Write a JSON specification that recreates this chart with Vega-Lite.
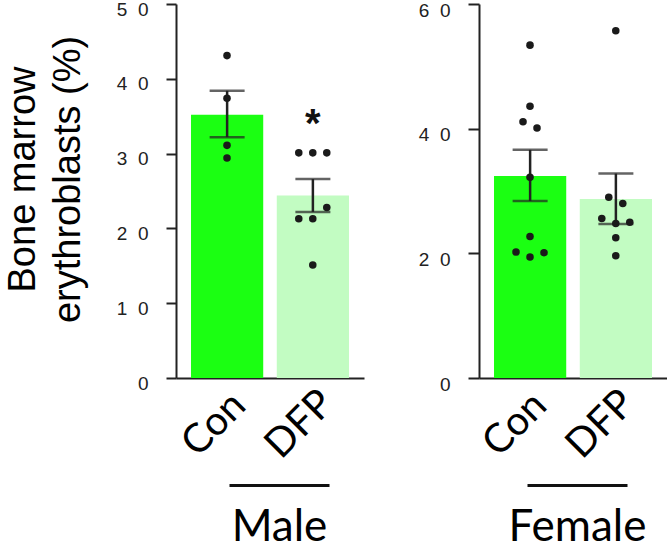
{
  "$schema": "https://vega.github.io/schema/vega-lite/v6.json",
  "background": "white",
  "padding": {"left": 3, "top": 0, "right": 0, "bottom": 0},
  "config": {"view": {"stroke": null}},
  "datasets": {
    "bars": [
      {"sex": "Male", "group": "Con", "mean": 35.2, "lo": 32.2, "hi": 38.4},
      {"sex": "Male", "group": "DFP", "mean": 24.4, "lo": 22.2, "hi": 26.6},
      {"sex": "Female", "group": "Con", "mean": 32.4, "lo": 28.4, "hi": 36.6},
      {"sex": "Female", "group": "DFP", "mean": 28.7, "lo": 24.7, "hi": 32.8}
    ],
    "points": [
      {"sex": "Male", "group": "Con", "col": 0, "value": 43.1},
      {"sex": "Male", "group": "Con", "col": 0, "value": 37.4},
      {"sex": "Male", "group": "Con", "col": 0, "value": 31.1},
      {"sex": "Male", "group": "Con", "col": 0, "value": 29.4},
      {"sex": "Male", "group": "DFP", "col": -2, "value": 30.1},
      {"sex": "Male", "group": "DFP", "col": 0, "value": 30.1},
      {"sex": "Male", "group": "DFP", "col": 2, "value": 30.1},
      {"sex": "Male", "group": "DFP", "col": 2, "value": 22.8},
      {"sex": "Male", "group": "DFP", "col": -2, "value": 21.3},
      {"sex": "Male", "group": "DFP", "col": 0, "value": 21.3},
      {"sex": "Male", "group": "DFP", "col": 0, "value": 15.1},
      {"sex": "Female", "group": "Con", "col": 0, "value": 53.4},
      {"sex": "Female", "group": "Con", "col": 0, "value": 43.6},
      {"sex": "Female", "group": "Con", "col": -1, "value": 41.1},
      {"sex": "Female", "group": "Con", "col": 1, "value": 40.1},
      {"sex": "Female", "group": "Con", "col": 0, "value": 32.2},
      {"sex": "Female", "group": "Con", "col": 0, "value": 22.7},
      {"sex": "Female", "group": "Con", "col": -2, "value": 20.2},
      {"sex": "Female", "group": "Con", "col": 0, "value": 19.4},
      {"sex": "Female", "group": "Con", "col": 2, "value": 20.1},
      {"sex": "Female", "group": "DFP", "col": 0, "value": 55.7},
      {"sex": "Female", "group": "DFP", "col": -1, "value": 29.0},
      {"sex": "Female", "group": "DFP", "col": 1, "value": 28.0},
      {"sex": "Female", "group": "DFP", "col": -2, "value": 25.6},
      {"sex": "Female", "group": "DFP", "col": 0, "value": 24.8},
      {"sex": "Female", "group": "DFP", "col": 2, "value": 25.0},
      {"sex": "Female", "group": "DFP", "col": 0, "value": 22.5},
      {"sex": "Female", "group": "DFP", "col": 0, "value": 19.6}
    ],
    "annot": [
      {"sex": "Male", "group": "DFP", "y": 33.8, "label": "*"}
    ],
    "ends": [{"t": 0}, {"t": 1}]
  },
  "spacing": 54,
  "hconcat": [
    {
      "width": 188,
      "height": 374,
      "resolve": {"scale": {"x": "independent"}, "axis": {"x": "independent"}},
      "layer": [
        {
          "resolve": {"scale": {"xOffset": "independent"}},
          "layer": [
            {
              "data": {"name": "bars"},
              "transform": [{"filter": "datum.sex === 'Male'"}],
              "mark": {"type": "bar"},
              "encoding": {
                "x": {"field": "group", "type": "nominal", "scale": {"domain": ["Con", "DFP"], "paddingInner": 0.158, "paddingOuter": 0.175},
                  "axis": {"orient": "bottom", "title": null, "domain": true, "domainColor": "#222", "domainWidth": 2, "ticks": false, "tickSize": 0, "labelAngle": -45, "labelAlign": "center", "labelBaseline": "middle", "labelFont": "Lato", "labelFontSize": 40, "labelColor": "black", "labelPadding": 46, "labelOffset": -13}},
                "y": {"field": "mean", "type": "quantitative", "scale": {"domain": [0, 50]},
                  "axis": {"values": [0, 10, 20, 30, 40, 50], "grid": false, "labelExpr": "join(split(datum.label, ''), '\u00a0\u00a0')", "labelFont": "Liberation Sans", "labelFontSize": 19, "labelColor": "#222", "labelPadding": 18, "labelBaseline": "middle", "labelOffset": 5, "tickSize": 10, "tickWidth": 2, "tickColor": "#222", "domainColor": "#222", "domainWidth": 2,
                    "title": ["Bone marrow", "erythroblasts (%)"], "titleFont": "Liberation Sans", "titleFontSize": 38, "titleFontWeight": "normal", "titleColor": "black", "titleLineHeight": 45, "titleAngle": -90, "titleX": -142, "titleY": 175, "titleBaseline": "alphabetic", "titleAlign": "center"}},
                "color": {"field": "group", "type": "nominal", "scale": {"domain": ["Con", "DFP"], "range": ["#1bff12", "#c2fcc2"]}, "legend": null}
              }
            },
            {
              "data": {"name": "bars"},
              "transform": [{"filter": "datum.sex === 'Male'"}],
              "mark": {"type": "rule", "color": "#222", "strokeWidth": 2.5},
              "encoding": {"x": {"field": "group", "type": "nominal"}, "y": {"field": "lo", "type": "quantitative"}, "y2": {"field": "hi"}}
            },
            {
              "data": {"name": "bars"},
              "transform": [{"filter": "datum.sex === 'Male'"}],
              "mark": {"type": "tick", "color": "#222", "size": 35, "thickness": 2.5, "orient": "horizontal"},
              "encoding": {"x": {"field": "group", "type": "nominal"}, "y": {"field": "lo", "type": "quantitative"}}
            },
            {
              "data": {"name": "bars"},
              "transform": [{"filter": "datum.sex === 'Male'"}],
              "mark": {"type": "tick", "color": "#222", "size": 35, "thickness": 2.5, "orient": "horizontal"},
              "encoding": {"x": {"field": "group", "type": "nominal"}, "y": {"field": "hi", "type": "quantitative"}}
            },
            {
              "data": {"name": "points"},
              "transform": [{"filter": "datum.sex === 'Male'"}],
              "mark": {"type": "point", "filled": true, "color": "#1a1a1a", "size": 57, "opacity": 1},
              "encoding": {
                "x": {"field": "group", "type": "nominal"},
                "xOffset": {"field": "col", "type": "ordinal", "scale": {"domain": [-2, -1, 0, 1, 2], "range": [22, 50], "paddingInner": 0, "paddingOuter": 0}},
                "y": {"field": "value", "type": "quantitative"}
              }
            },
            {
              "data": {"name": "annot"},
              "transform": [{"filter": "datum.sex === 'Male'"}],
              "mark": {"type": "text", "font": "Liberation Sans", "fontSize": 40, "fontWeight": "bold", "baseline": "middle", "color": "#111"},
              "encoding": {"x": {"field": "group", "type": "nominal"}, "y": {"field": "y", "type": "quantitative"}, "text": {"field": "label"}}
            }
          ]
        },
        {
          "data": {"name": "ends"},
          "mark": {"type": "point", "opacity": 0},
          "encoding": {
            "x": {"field": "t", "type": "quantitative", "scale": {"domain": [0, 1], "range": [53, 153], "nice": false, "zero": false},
              "axis": {"orient": "bottom", "offset": 107, "domain": true, "domainColor": "#111", "domainWidth": 3, "ticks": false, "labels": false, "grid": false, "title": "Male", "titleFont": "Lato", "titleFontSize": 44, "titleFontWeight": "normal", "titleColor": "black", "titlePadding": 20}}
          }
        }
      ]
    },
    {
      "width": 188,
      "height": 374,
      "resolve": {"scale": {"x": "independent"}, "axis": {"x": "independent"}},
      "layer": [
        {
          "resolve": {"scale": {"xOffset": "independent"}},
          "layer": [
            {
              "data": {"name": "bars"},
              "transform": [{"filter": "datum.sex === 'Female'"}],
              "mark": {"type": "bar"},
              "encoding": {
                "x": {"field": "group", "type": "nominal", "scale": {"domain": ["Con", "DFP"], "paddingInner": 0.158, "paddingOuter": 0.175},
                  "axis": {"orient": "bottom", "title": null, "domain": true, "domainColor": "#222", "domainWidth": 2, "ticks": false, "tickSize": 0, "labelAngle": -45, "labelAlign": "center", "labelBaseline": "middle", "labelFont": "Lato", "labelFontSize": 40, "labelColor": "black", "labelPadding": 46, "labelOffset": -15}},
                "y": {"field": "mean", "type": "quantitative", "scale": {"domain": [0, 60]},
                  "axis": {"values": [0, 20, 40, 60], "grid": false, "labelExpr": "join(split(datum.label, ''), '\u00a0\u00a0')", "labelFont": "Liberation Sans", "labelFontSize": 19, "labelColor": "#222", "labelPadding": 18, "labelBaseline": "middle", "labelOffset": 6, "tickSize": 11, "tickWidth": 2, "tickColor": "#222", "domainColor": "#222", "domainWidth": 2, "title": null}},
                "color": {"field": "group", "type": "nominal", "scale": {"domain": ["Con", "DFP"], "range": ["#1bff12", "#c2fcc2"]}, "legend": null}
              }
            },
            {
              "data": {"name": "bars"},
              "transform": [{"filter": "datum.sex === 'Female'"}],
              "mark": {"type": "rule", "color": "#222", "strokeWidth": 2.5},
              "encoding": {"x": {"field": "group", "type": "nominal"}, "y": {"field": "lo", "type": "quantitative"}, "y2": {"field": "hi"}}
            },
            {
              "data": {"name": "bars"},
              "transform": [{"filter": "datum.sex === 'Female'"}],
              "mark": {"type": "tick", "color": "#222", "size": 35, "thickness": 2.5, "orient": "horizontal"},
              "encoding": {"x": {"field": "group", "type": "nominal"}, "y": {"field": "lo", "type": "quantitative"}}
            },
            {
              "data": {"name": "bars"},
              "transform": [{"filter": "datum.sex === 'Female'"}],
              "mark": {"type": "tick", "color": "#222", "size": 35, "thickness": 2.5, "orient": "horizontal"},
              "encoding": {"x": {"field": "group", "type": "nominal"}, "y": {"field": "hi", "type": "quantitative"}}
            },
            {
              "data": {"name": "points"},
              "transform": [{"filter": "datum.sex === 'Female'"}],
              "mark": {"type": "point", "filled": true, "color": "#1a1a1a", "size": 57, "opacity": 1},
              "encoding": {
                "x": {"field": "group", "type": "nominal"},
                "xOffset": {"field": "col", "type": "ordinal", "scale": {"domain": [-2, -1, 0, 1, 2], "range": [22, 50], "paddingInner": 0, "paddingOuter": 0}},
                "y": {"field": "value", "type": "quantitative"}
              }
            }
          ]
        },
        {
          "data": {"name": "ends"},
          "mark": {"type": "point", "opacity": 0},
          "encoding": {
            "x": {"field": "t", "type": "quantitative", "scale": {"domain": [0, 1], "range": [48, 148], "nice": false, "zero": false},
              "axis": {"orient": "bottom", "offset": 107, "domain": true, "domainColor": "#111", "domainWidth": 3, "ticks": false, "labels": false, "grid": false, "title": "Female", "titleFont": "Lato", "titleFontSize": 44, "titleFontWeight": "normal", "titleColor": "black", "titlePadding": 20}}
          }
        }
      ]
    }
  ]
}
